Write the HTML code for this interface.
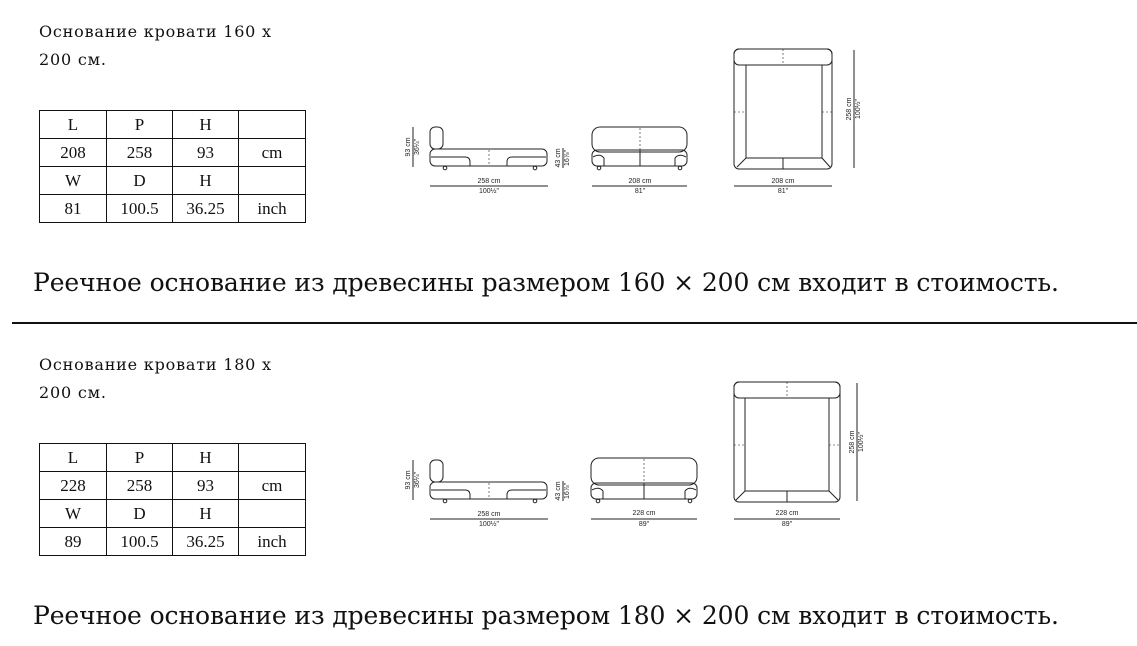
<!DOCTYPE html>
<html><head><meta charset="utf-8"><style>
body{margin:0;width:1137px;height:646px;background:#fff;position:relative;overflow:hidden;font-family:"Liberation Serif","DejaVu Serif",serif;color:#111}
.t{position:absolute;left:39px;font-size:16px;line-height:28px;font-family:"DejaVu Serif",serif;letter-spacing:0.8px;white-space:nowrap}
table{position:absolute;left:39px;border-collapse:collapse;font-size:17px}
td{border:1.5px solid #111;text-align:center;height:27px;padding:0}
.big{position:absolute;left:33px;font-size:25px;white-space:nowrap;line-height:30px;font-family:"DejaVu Serif",serif;letter-spacing:-0.1px}
svg{position:absolute;left:0;top:0}
svg text{font-family:"Liberation Sans","DejaVu Sans",sans-serif;font-size:7px;fill:#222}
</style></head><body>
<div class="t" style="top:18px">Основание кровати 160 x<br>200 см.</div>
<table style="top:110px">
<tr><td style="width:66px">L</td><td style="width:65px">P</td><td style="width:65px">H</td><td style="width:66px"></td></tr>
<tr><td>208</td><td>258</td><td>93</td><td>cm</td></tr>
<tr><td>W</td><td>D</td><td>H</td><td></td></tr>
<tr><td>81</td><td>100.5</td><td>36.25</td><td>inch</td></tr>
</table>
<div class="big" style="top:268px">Реечное основание из древесины размером 160 × 200 см входит в стоимость.</div>
<div style="position:absolute;left:12px;top:322px;width:1125px;height:2px;background:#111"></div>
<div class="t" style="top:351px">Основание кровати 180 x<br>200 см.</div>
<table style="top:443px">
<tr><td style="width:66px">L</td><td style="width:65px">P</td><td style="width:65px">H</td><td style="width:66px"></td></tr>
<tr><td>228</td><td>258</td><td>93</td><td>cm</td></tr>
<tr><td>W</td><td>D</td><td>H</td><td></td></tr>
<tr><td>89</td><td>100.5</td><td>36.25</td><td>inch</td></tr>
</table>
<div class="big" style="top:601px">Реечное основание из древесины размером 180 × 200 см входит в стоимость.</div>

<svg width="1137" height="646" fill="none" stroke="#222" stroke-width="1">
<g>
<line x1="413" y1="127" x2="413" y2="167"/>
<text transform="translate(410,147) rotate(-90)" text-anchor="middle" stroke="none">93 cm</text>
<text transform="translate(419,147) rotate(-90)" text-anchor="middle" stroke="none">36¼"</text>
<rect x="430" y="127" width="13" height="22" rx="5"/>
<rect x="430" y="149" width="117" height="17" rx="5"/>
<path d="M431 157 H465 Q470 157 470 162 V166 M546 157 H512 Q507 157 507 162 V166"/>
<line x1="489" y1="150" x2="489" y2="166" stroke-dasharray="2 2" stroke-width=".6"/>
<circle cx="445" cy="168" r="1.8"/><circle cx="535" cy="168" r="1.8"/>
<line x1="563" y1="148" x2="563" y2="168"/>
<text transform="translate(560,158) rotate(-90)" text-anchor="middle" stroke="none">43 cm</text>
<text transform="translate(569,158) rotate(-90)" text-anchor="middle" stroke="none">16⅞"</text>
<text x="489" y="183" text-anchor="middle" stroke="none">258 cm</text>
<line x1="430" y1="186" x2="548" y2="186"/>
<text x="489" y="193" text-anchor="middle" stroke="none">100½"</text>
<rect x="592" y="127" width="95" height="25" rx="8"/>
<line x1="640" y1="128" x2="640" y2="150" stroke-dasharray="2 2" stroke-width=".6"/>
<rect x="592" y="150" width="95" height="16" rx="5"/>
<line x1="640" y1="150" x2="640" y2="166"/>
<path d="M593 157 Q600 153 604 158 V166 M686 157 Q679 153 675 158 V166"/>
<circle cx="599" cy="168" r="1.8"/><circle cx="680" cy="168" r="1.8"/>
<text x="640" y="183" text-anchor="middle" stroke="none">208 cm</text>
<line x1="592" y1="186" x2="687" y2="186"/>
<text x="640" y="193" text-anchor="middle" stroke="none">81"</text>
<rect x="734" y="49" width="98" height="120" rx="5"/>
<rect x="734" y="49" width="98" height="16" rx="5"/>
<rect x="746" y="65" width="76" height="93"/>
<path d="M746 158 L737 167 M822 158 L830 167"/>
<line x1="783" y1="158" x2="783" y2="169"/>
<line x1="783" y1="49" x2="783" y2="65" stroke-dasharray="2 2" stroke-width=".6"/>
<path d="M734 112 H746 M822 112 H832" stroke-dasharray="2 2" stroke-width=".6"/>
<line x1="854" y1="50" x2="854" y2="168"/>
<text transform="translate(851,109) rotate(-90)" text-anchor="middle" stroke="none">258 cm</text>
<text transform="translate(860,109) rotate(-90)" text-anchor="middle" stroke="none">100½"</text>
<text x="783" y="183" text-anchor="middle" stroke="none">208 cm</text>
<line x1="734" y1="186" x2="832" y2="186"/>
<text x="783" y="193" text-anchor="middle" stroke="none">81"</text>
</g>
<g transform="translate(0,333)">
<line x1="413" y1="127" x2="413" y2="167"/>
<text transform="translate(410,147) rotate(-90)" text-anchor="middle" stroke="none">93 cm</text>
<text transform="translate(419,147) rotate(-90)" text-anchor="middle" stroke="none">36¼"</text>
<rect x="430" y="127" width="13" height="22" rx="5"/>
<rect x="430" y="149" width="117" height="17" rx="5"/>
<path d="M431 157 H465 Q470 157 470 162 V166 M546 157 H512 Q507 157 507 162 V166"/>
<line x1="489" y1="150" x2="489" y2="166" stroke-dasharray="2 2" stroke-width=".6"/>
<circle cx="445" cy="168" r="1.8"/><circle cx="535" cy="168" r="1.8"/>
<line x1="563" y1="148" x2="563" y2="168"/>
<text transform="translate(560,158) rotate(-90)" text-anchor="middle" stroke="none">43 cm</text>
<text transform="translate(569,158) rotate(-90)" text-anchor="middle" stroke="none">16⅞"</text>
<text x="489" y="183" text-anchor="middle" stroke="none">258 cm</text>
<line x1="430" y1="186" x2="548" y2="186"/>
<text x="489" y="193" text-anchor="middle" stroke="none">100½"</text>
<rect x="591" y="125" width="106" height="27" rx="8"/>
<line x1="644" y1="126" x2="644" y2="150" stroke-dasharray="2 2" stroke-width=".6"/>
<rect x="591" y="150" width="106" height="16" rx="5"/>
<line x1="644" y1="150" x2="644" y2="166"/>
<path d="M592 157 Q599 153 603 158 V166 M696 157 Q689 153 685 158 V166"/>
<circle cx="598" cy="168" r="1.8"/><circle cx="690" cy="168" r="1.8"/>
<text x="644" y="182" text-anchor="middle" stroke="none">228 cm</text>
<line x1="591" y1="186" x2="697" y2="186"/>
<text x="644" y="193" text-anchor="middle" stroke="none">89"</text>
<rect x="734" y="49" width="106" height="120" rx="5"/>
<rect x="734" y="49" width="106" height="16" rx="5"/>
<rect x="745" y="65" width="84" height="93"/>
<path d="M745 158 L736 167 M829 158 L838 167"/>
<line x1="787" y1="158" x2="787" y2="169"/>
<line x1="787" y1="49" x2="787" y2="65" stroke-dasharray="2 2" stroke-width=".6"/>
<path d="M734 112 H745 M829 112 H840" stroke-dasharray="2 2" stroke-width=".6"/>
<line x1="857" y1="50" x2="857" y2="168"/>
<text transform="translate(854,109) rotate(-90)" text-anchor="middle" stroke="none">258 cm</text>
<text transform="translate(863,109) rotate(-90)" text-anchor="middle" stroke="none">100½"</text>
<text x="787" y="182" text-anchor="middle" stroke="none">228 cm</text>
<line x1="734" y1="186" x2="840" y2="186"/>
<text x="787" y="193" text-anchor="middle" stroke="none">89"</text>
</g>
</svg>
</body></html>
